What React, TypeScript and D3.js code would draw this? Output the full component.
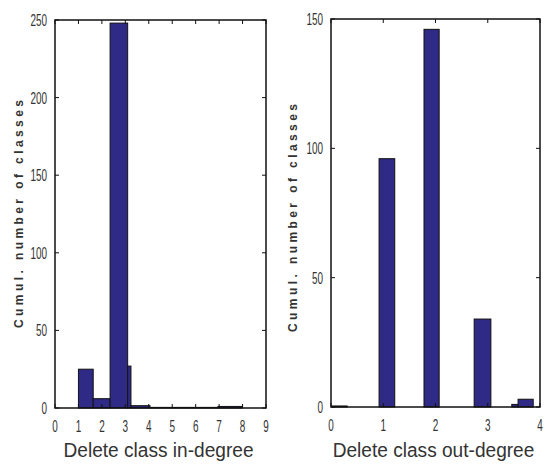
import React from "react";
import * as d3 from "d3";

const leftBinStart = [1.0, 1.63, 2.35, 3.1, 3.24, 4.05, 6.95];
const leftBinEnd = [1.63, 2.35, 3.1, 3.24, 4.05, 6.95, 7.98];
const leftCounts = [25, 6, 248, 27, 1.5, 0.4, 1];
const leftXTicks = [0, 1, 2, 3, 4, 5, 6, 7, 8, 9];
const leftYTicks = [0, 50, 100, 150, 200, 250];

const rightBinStart = [0.02, 0.92, 1.78, 2.74, 3.46, 3.58];
const rightBinEnd = [0.31, 1.22, 2.07, 3.06, 3.58, 3.87];
const rightCounts = [0.4, 96, 146, 34, 1, 3];
const rightXTicks = [0, 1, 2, 3, 4];
const rightYTicks = [0, 50, 100, 150];

const BAR = "#2f2a86";
const FONT = "'Liberation Sans', Arial, sans-serif";

type PanelProps = {
  x0: number; x1: number; y0: number; y1: number;
  xMax: number; yMax: number;
  starts: number[]; ends: number[]; counts: number[];
  xTicks: number[]; yTicks: number[];
  xLabel: string;
  yLabelX: number; yLabelCenter: number;
};

function Panel(p: PanelProps) {
  const x = d3.scaleLinear().domain([0, p.xMax]).range([p.x0, p.x1]);
  const y = d3.scaleLinear().domain([0, p.yMax]).range([p.y1, p.y0]);
  const tk = 4;
  return (
    <g>
      {p.counts.map((c, i) => (
        <rect key={i} x={x(p.starts[i])} y={y(c)} width={x(p.ends[i]) - x(p.starts[i])}
          height={y(0) - y(c)} fill={BAR} stroke="#111" strokeWidth={1} />
      ))}
      <rect x={p.x0} y={p.y0} width={p.x1 - p.x0} height={p.y1 - p.y0} fill="none" stroke="#111" strokeWidth={1.5} />
      {p.xTicks.map((t) => (
        <g key={"x" + t}>
          <line x1={x(t)} x2={x(t)} y1={p.y1} y2={p.y1 - tk} stroke="#111" />
          <line x1={x(t)} x2={x(t)} y1={p.y0} y2={p.y0 + tk} stroke="#111" />
          <text transform={`translate(${x(t)},${p.y1 + 24}) scale(0.62,1)`} textAnchor="middle"
            fontFamily={FONT} fontSize={16} fill="#333">{t}</text>
        </g>
      ))}
      {p.yTicks.map((t) => (
        <g key={"y" + t}>
          <line x1={p.x0} x2={p.x0 + tk} y1={y(t)} y2={y(t)} stroke="#111" />
          <line x1={p.x1} x2={p.x1 - tk} y1={y(t)} y2={y(t)} stroke="#111" />
          <text transform={`translate(${p.x0 - 8},${y(t) + 6}) scale(0.62,1)`} textAnchor="end"
            fontFamily={FONT} fontSize={16} fill="#333">{t}</text>
        </g>
      ))}
      <text transform={`translate(${(p.x0 + p.x1) / 2 - 2},457) scale(0.91,1)`} textAnchor="middle"
        fontFamily={FONT} fontSize={21} fill="#333">{p.xLabel}</text>
      <text transform={`translate(${p.yLabelX},${p.yLabelCenter}) rotate(-90)`} textAnchor="middle"
        fontFamily={FONT} fontSize={12} fontWeight="bold" fill="#333" textLength={228}
        lengthAdjust="spacing">Cumul. number of classes</text>
    </g>
  );
}

export default function App() {
  return (
    <svg width={549} height={465} style={{ position: "absolute", left: 0, top: 0, background: "#fff" }}>
      <Panel x0={55} x1={266} y0={20} y1={408} xMax={9} yMax={250}
        starts={leftBinStart} ends={leftBinEnd} counts={leftCounts}
        xTicks={leftXTicks} yTicks={leftYTicks}
        xLabel="Delete class in-degree" yLabelX={23} yLabelCenter={214} />
      <Panel x0={331} x1={540} y0={19} y1={407} xMax={4} yMax={150}
        starts={rightBinStart} ends={rightBinEnd} counts={rightCounts}
        xTicks={rightXTicks} yTicks={rightYTicks}
        xLabel="Delete class out-degree" yLabelX={297} yLabelCenter={218} />
    </svg>
  );
}
